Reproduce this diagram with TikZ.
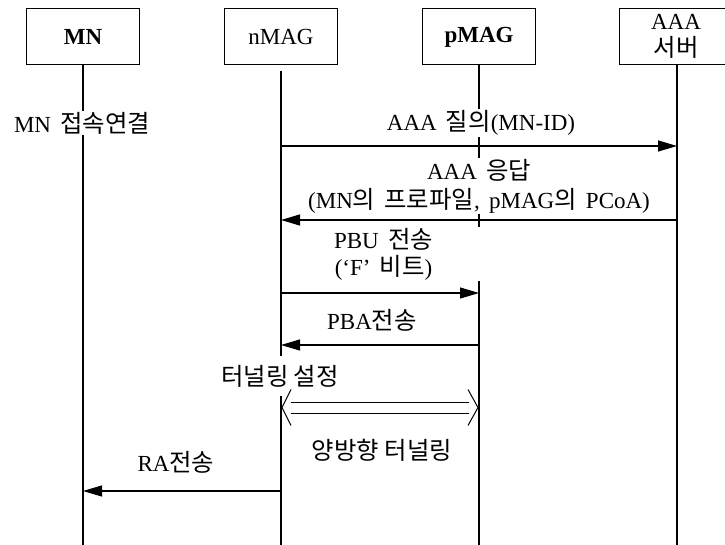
\documentclass[tikz,border=0pt]{standalone}
\usepackage{fontspec}
\setmainfont{Liberation Serif}[WordSpace=1.6]
\newfontfamily\kr{Noto Sans CJK KR}[Scale=1.06]
\usetikzlibrary{arrows.meta}
\begin{document}
\begin{tikzpicture}[x=1pt,y=-1pt,
  every node/.style={font=\fontsize{23}{27}\selectfont},
  ent/.style={draw, line width=1pt, minimum width=113pt, minimum height=56pt, inner sep=0pt, align=center},
  life/.style={line width=1.1pt},
  msg/.style={line width=1.2pt, -{Triangle[length=19pt,width=11pt]}},
  lbl/.style={fill=white, inner sep=1pt, align=center},
  dbl/.style={line width=1pt}]
\useasboundingbox (0,0) rectangle (725,545);
\clip (0,0) rectangle (725,545);
\fill[white] (0,0) rectangle (725,545);

% entities
\node[ent, font=\bfseries\fontsize{23}{27}\selectfont] (mn) at (83,37) {MN};
\node[ent] (nmag) at (281,37) {nMAG};
\node[ent, font=\bfseries\fontsize{23}{27}\selectfont] (pmag) at (479,37) {pMAG};
\node[ent] (aaa) at (676,37) {};
\node (aaat) at (676,22) {AAA};
\node (aaak) at (676,47) {{\kr 서버}};

% lifelines
\coordinate (mnE) at (83,545);
\coordinate (nmagS) at (281,71);
\coordinate (nmagE) at (281,545);
\coordinate (pmagE) at (479,545);
\coordinate (aaaE) at (677,545);
\draw[life] (mn.south) -- (mnE);
\draw[life] (nmagS) -- (nmagE);
\draw[life] (pmag.south) -- (pmagE);
\draw[life] (aaa.south -| aaaE) -- (aaaE);

% labels
\node[lbl] (l0) at (82,123) {MN {\kr 접속연결}};
\node[lbl] (l1) at (481,123) {AAA {\kr 질의}(MN-ID)};
\node[lbl, font=\fontsize{23}{29}\selectfont, minimum height=56pt] (l2) at (479,186)
  {AAA {\kr 응답}\\({MN\kr 의} {\kr 프로파일}, {pMAG\kr 의} PCoA)};
\node[lbl, font=\fontsize{23}{27}\selectfont, minimum width=196pt, minimum height=36pt] (l3) at (383.5,254)
  {PBU {\kr 전송}\\(‘F’ {\kr 비트})};
\node[lbl] (l4) at (372,320) {PBA{\kr 전송}};
\node[lbl, minimum height=40pt] (l5) at (280,376) {{\kr 터널링 설정}};
\node[lbl] (l6) at (382,450) {{\kr 양방향 터널링}};
\node[lbl] (l7) at (176,462) {RA{\kr 전송}};

% messages
\coordinate (n1) at (281,146); \coordinate (a1) at (677,146);
\coordinate (a2) at (677,220); \coordinate (n2) at (281,220);
\coordinate (n3) at (281,293); \coordinate (p3) at (479,293);
\coordinate (p4) at (479,345); \coordinate (n4) at (281,345);
\coordinate (n5) at (281,491); \coordinate (m5) at (83,491);
\draw[msg] (n1) -- (a1);
\draw[msg] (a2) -- (n2);
\draw[msg] (n3) -- (p3);
\draw[msg] (p4) -- (n4);
\draw[msg] (n5) -- (m5);

% bidirectional tunnel arrow
\coordinate (dl) at (282,407.5);
\coordinate (dr) at (478,407.5);
\draw[dbl] (dl) ++(9,-18) -- (dl) -- ++(9,18);
\draw[dbl] (dr) ++(-10,-18) -- (dr) -- ++(-10,18);
\draw[dbl] (dl) ++(9,-5.5) -- ++(178,0);
\draw[dbl] (dl) ++(9,5.5) -- ++(178,0);
\end{tikzpicture}
\end{document}
